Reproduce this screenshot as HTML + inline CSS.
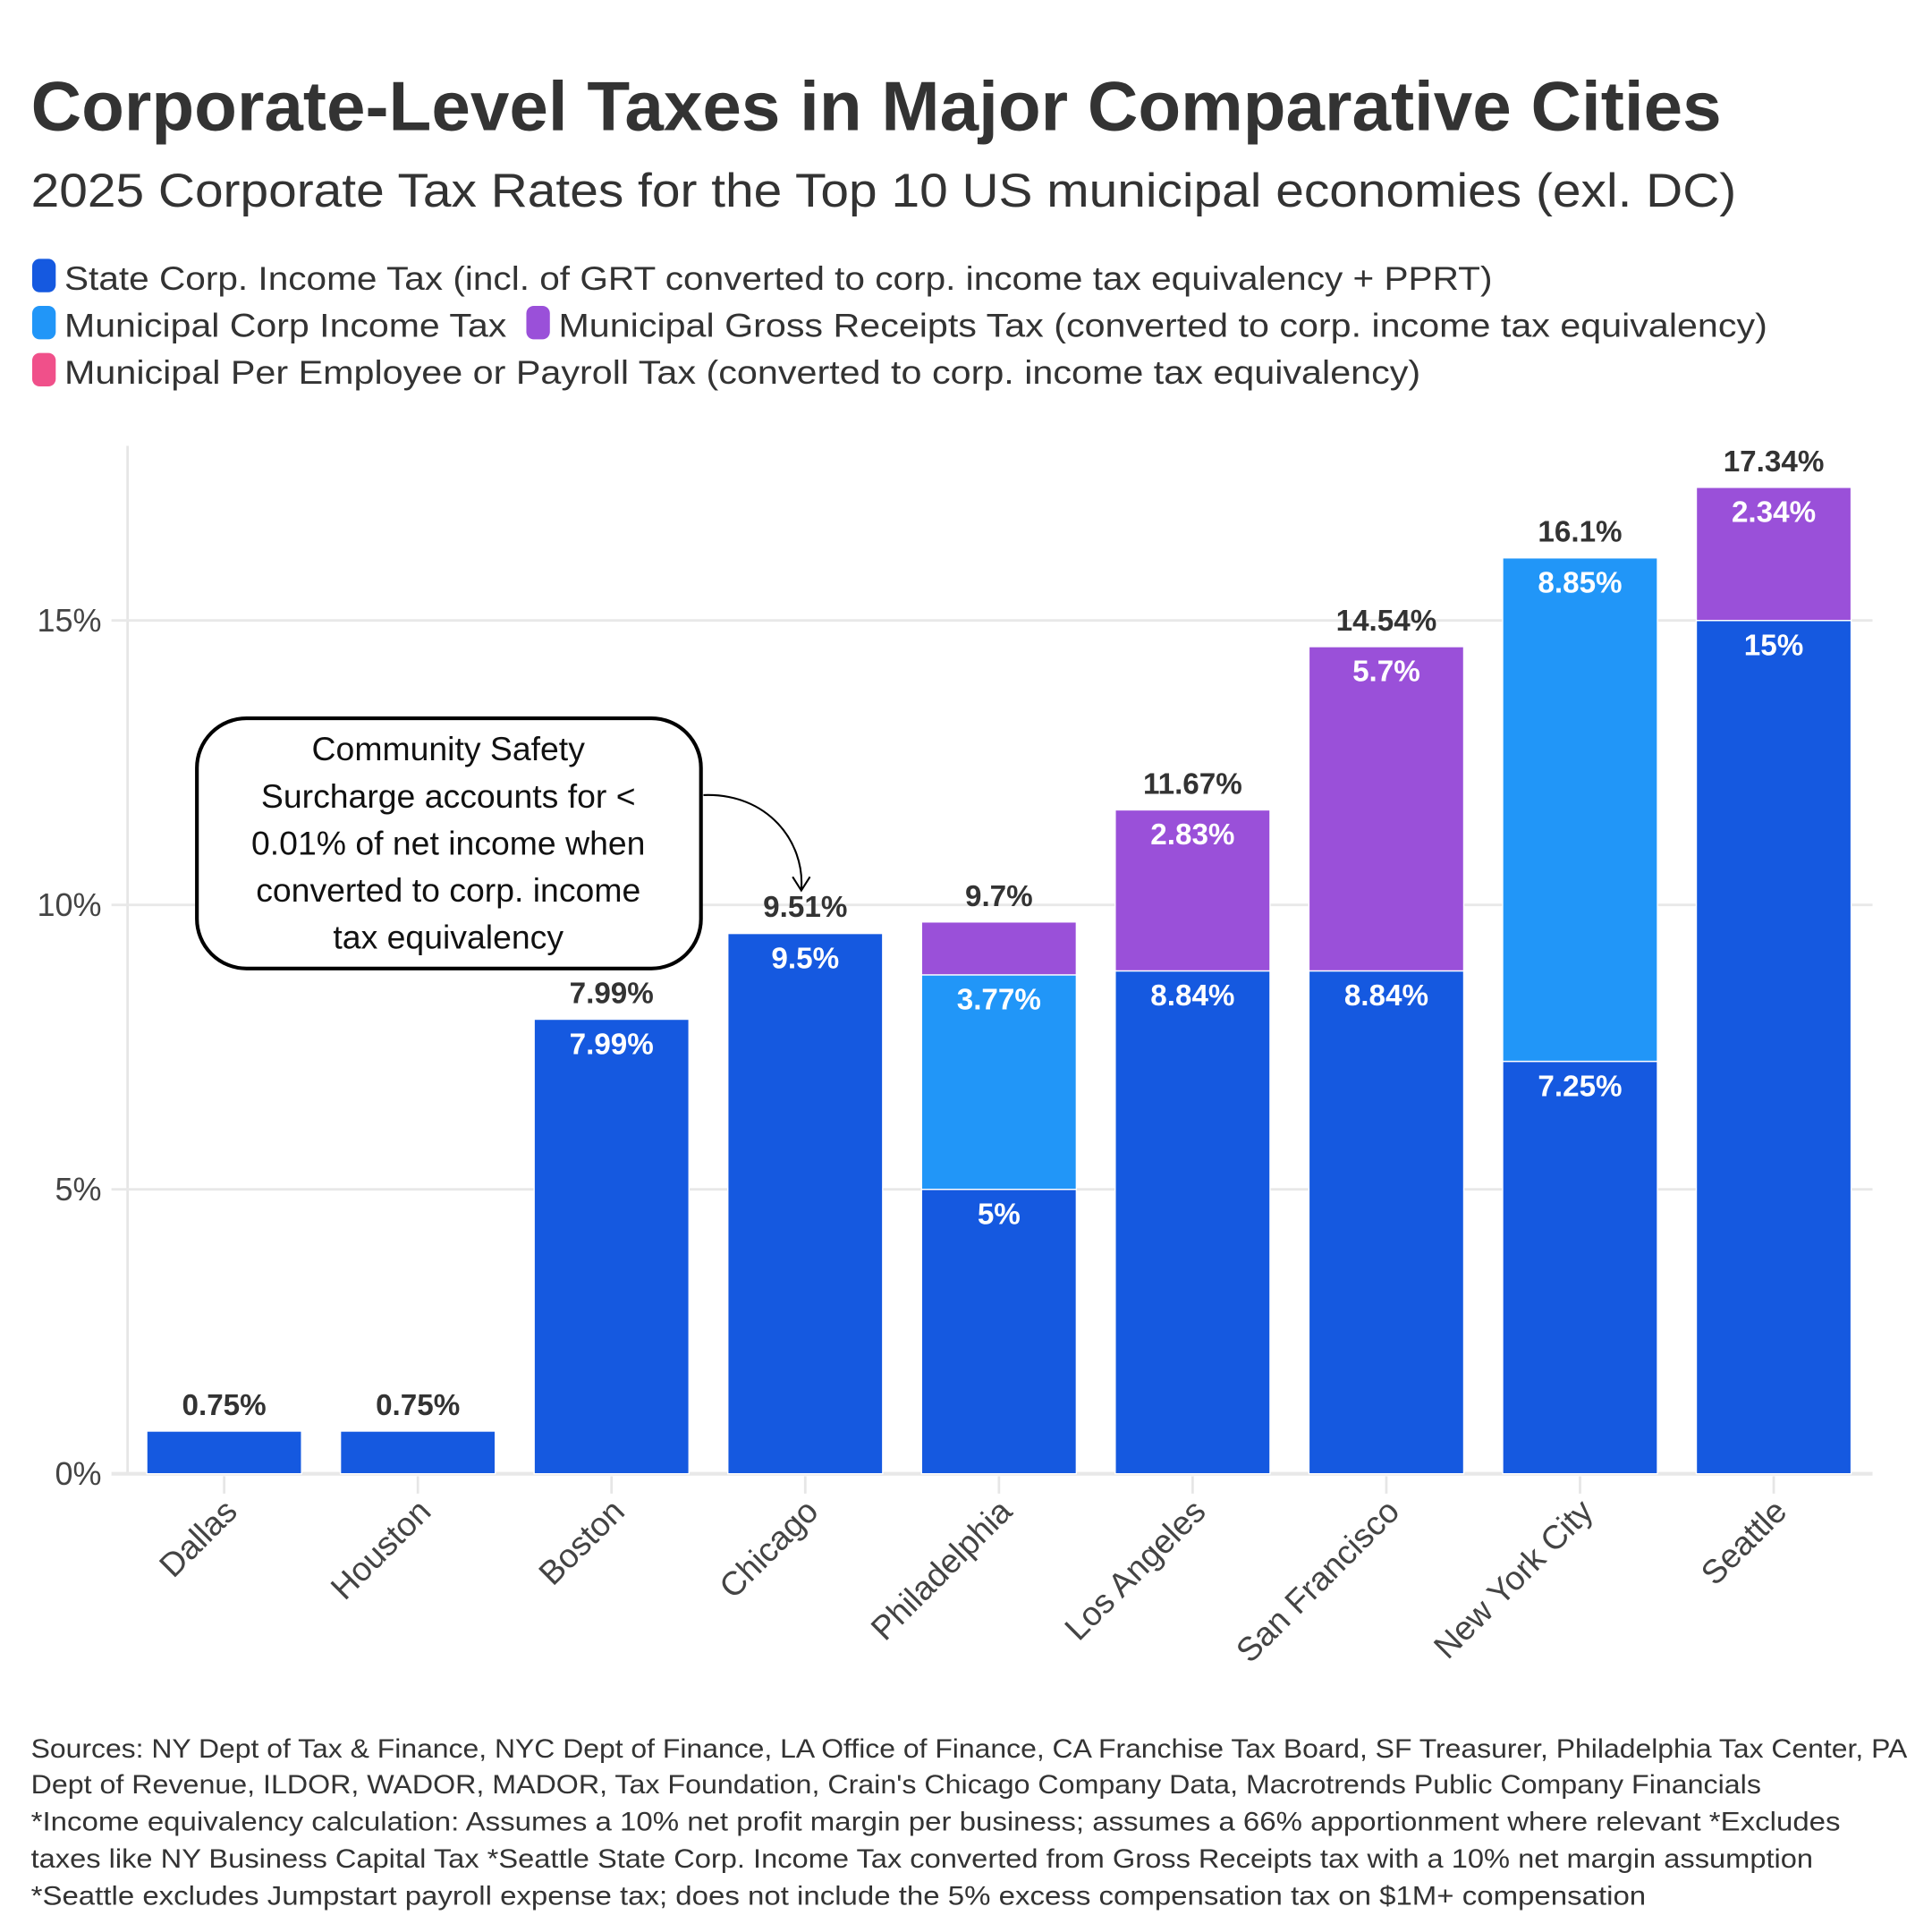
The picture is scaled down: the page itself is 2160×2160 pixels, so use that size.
<!DOCTYPE html>
<html><head><meta charset="utf-8">
<style>
html,body{margin:0;padding:0;background:#fff;}
svg{display:block;font-family:"Liberation Sans",sans-serif;}
</style></head>
<body>
<svg id="chart" width="2160" height="2160" viewBox="0 0 1560 1560" xmlns="http://www.w3.org/2000/svg">
<text x="25" y="105" font-size="56" font-weight="bold" fill="#333" textLength="1365" lengthAdjust="spacingAndGlyphs">Corporate-Level Taxes in Major Comparative Cities</text>
<text x="25" y="167" font-size="38" fill="#333" textLength="1377" lengthAdjust="spacingAndGlyphs">2025 Corporate Tax Rates for the Top 10 US municipal economies (exl. DC)</text>
<g font-size="27" fill="#333">
<g><rect x="26" y="209" width="19" height="27" rx="6" fill="#1559e0"/><text x="52" y="234" textLength="1153" lengthAdjust="spacingAndGlyphs">State Corp. Income Tax (incl. of GRT converted to corp. income tax equivalency + PPRT)</text></g>
<g><rect x="26" y="247" width="19" height="27" rx="6" fill="#2196f8"/><text x="52" y="272" textLength="357" lengthAdjust="spacingAndGlyphs">Municipal Corp Income Tax</text></g>
<g><rect x="425" y="247" width="19" height="27" rx="6" fill="#9a50d9"/><text x="451" y="272" textLength="976" lengthAdjust="spacingAndGlyphs">Municipal Gross Receipts Tax (converted to corp. income tax equivalency)</text></g>
<g><rect x="26" y="285" width="19" height="27" rx="6" fill="#f0508a"/><text x="52" y="310" textLength="1095" lengthAdjust="spacingAndGlyphs">Municipal Per Employee or Payroll Tax (converted to corp. income tax equivalency)</text></g>
</g>
<g id="grid"></g>
<g id="bars"></g>
<g id="labels"></g>
<g>
<rect x="159" y="580" width="407" height="202" rx="40" fill="#fff" stroke="#000" stroke-width="3"/>
<g font-size="27" fill="#111" text-anchor="middle">
<text x="362" y="614">Community Safety</text>
<text x="362" y="652">Surcharge accounts for &lt;</text>
<text x="362" y="690">0.01% of net income when</text>
<text x="362" y="728">converted to corp. income</text>
<text x="362" y="766">tax equivalency</text>
</g>
<path d="M568,642 C620,640 650,680 647,718" fill="none" stroke="#000" stroke-width="1.5"/>
<path d="M640,708 L647,719 L654,708" fill="none" stroke="#000" stroke-width="1.5"/>
</g>
<g font-size="21.5" fill="#333">
<text x="25" y="1419" textLength="1515" lengthAdjust="spacingAndGlyphs">Sources: NY Dept of Tax &amp; Finance, NYC Dept of Finance, LA Office of Finance, CA Franchise Tax Board, SF Treasurer, Philadelphia Tax Center, PA</text>
<text x="25" y="1448" textLength="1397" lengthAdjust="spacingAndGlyphs">Dept of Revenue, ILDOR, WADOR, MADOR, Tax Foundation, Crain's Chicago Company Data, Macrotrends Public Company Financials</text>
<text x="25" y="1478" textLength="1461" lengthAdjust="spacingAndGlyphs">*Income equivalency calculation: Assumes a 10% net profit margin per business; assumes a 66% apportionment where relevant *Excludes</text>
<text x="25" y="1508" textLength="1439" lengthAdjust="spacingAndGlyphs">taxes like NY Business Capital Tax *Seattle State Corp. Income Tax converted from Gross Receipts tax with a 10% net margin assumption</text>
<text x="25" y="1538" textLength="1304" lengthAdjust="spacingAndGlyphs">*Seattle excludes Jumpstart payroll expense tax; does not include the 5% excess compensation tax on $1M+ compensation</text>
</g>
</svg>
<script>
const categories = ["Dallas","Houston","Boston","Chicago","Philadelphia","Los Angeles","San Francisco","New York City","Seattle"];
const stateTax = [0.75,0.75,7.99,9.5,5,8.84,8.84,7.25,15];
const municipalCorp = [0,0,0,0,3.77,0,0,8.85,0];
const grossReceipts = [0,0,0,0,0.93,2.83,5.7,0,2.34];
const payrollTax = [0,0,0,0.01,0,0,0,0,0];
const totals = [0.75,0.75,7.99,9.51,9.7,11.67,14.54,16.1,17.34];
const yTicks = [0,5,10,15];
const yTickLabels = ["0%","5%","10%","15%"];

const NS="http://www.w3.org/2000/svg";
const y0=1190, pxPer=(1190-501)/15;
const yScale=v=>y0-v*pxPer;
const step=156.4, x0=181, bw=125;
const xScale=i=>x0+i*step;
function mk(tag,attrs,parent,text){const e=document.createElementNS(NS,tag);for(const k in attrs)e.setAttribute(k,attrs[k]);if(text!==undefined)e.textContent=text;parent.appendChild(e);return e;}
const grid=document.getElementById('grid'), bars=document.getElementById('bars'), labels=document.getElementById('labels');
mk('line',{x1:103,y1:360,x2:103,y2:1190,stroke:'#e6e6e6','stroke-width':2},grid);
yTicks.forEach((t,i)=>{
  const g=mk('line',{x1:90,x2:1512,y1:yScale(t),y2:yScale(t),stroke:'#e8e8e8','stroke-width':t===0?3:2},grid);
  
  
  const tl=mk('text',{x:82,y:yScale(t)+9,'font-size':26,fill:'#444','text-anchor':'end'},grid,yTickLabels[i]);
  
  
});
const series=[{v:stateTax,c:'#1559e0',n:'state'},{v:municipalCorp,c:'#2196f8',n:'municipal-corp'},{v:grossReceipts,c:'#9a50d9',n:'gross-receipts'},{v:payrollTax,c:'#f0508a',n:'payroll'}];
categories.forEach((cat,i)=>{
  const cx=xScale(i);
  let base=0;
  series.forEach(s=>{
    const v=s.v[i]; if(v<=0)return;
    const yt=yScale(base+v), yb=yScale(base);
    const r=mk('rect',{x:cx-bw/2,y:yt,width:bw,height:Math.max(yb-yt,0.5),fill:s.c,stroke:'#fff','stroke-width':1},bars);
    
    
    if(v>=1.5 && (totals[i]>1)){
      if(!(v===stateTax[i]&&totals[i]<1)){
        const t=mk('text',{x:cx,y:yt+28,'font-size':24,'font-weight':'bold',fill:'#fff','text-anchor':'middle'},labels,v+'%');
        
        
      }
    }
    base+=v;
  });
  const tt=mk('text',{x:cx,y:yScale(totals[i])-13,'font-size':24,'font-weight':'bold',fill:'#333','text-anchor':'middle'},labels,totals[i]+'%');
  
  
  const tk=mk('line',{x1:cx,x2:cx,y1:1192,y2:1206,stroke:'#e6e6e6','stroke-width':2},grid);
  
  
  const cl=mk('text',{x:cx+12,y:1222,'font-size':27,fill:'#444','text-anchor':'end',transform:'rotate(-45 '+(cx+12)+' 1222)'},labels,cat);
  
  
});
</script>
</body></html>
